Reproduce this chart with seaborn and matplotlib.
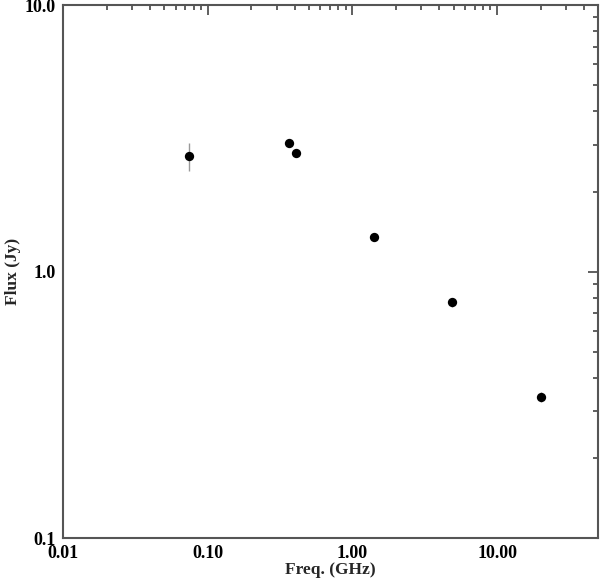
import numpy as np
import pandas as pd
import matplotlib
matplotlib.use("Agg")
import matplotlib.pyplot as plt
import matplotlib.ticker as mticker
import seaborn as sns

freq = [0.074, 0.365, 0.408, 1.4, 4.85, 20.0]
flux = [2.72, 3.05, 2.80, 1.35, 0.77, 0.34]
flux_err = [0.33, 0.08, 0.07, 0.03, 0.03, 0.015]

df = pd.DataFrame({"freq": freq, "flux": flux, "err": flux_err})

sns.set_theme(style="white")
plt.rcParams["font.family"] = ["Liberation Serif", "DejaVu Serif"]
plt.rcParams["font.weight"] = "bold"

fig = plt.figure(figsize=(6, 5.85), dpi=100)
ax = fig.add_axes([0.105, 0.080, 0.892, 0.911])

ax.errorbar(df["freq"], df["flux"], yerr=df["err"], fmt="none",
            ecolor="#999999", elinewidth=1, capsize=0, zorder=1)
sns.scatterplot(data=df, x="freq", y="flux", ax=ax, color="black",
                s=45, edgecolor="black", linewidth=0, zorder=2)

ax.set_xscale("log")
ax.set_yscale("log")
ax.set_xlim(0.01, 50)
ax.set_ylim(0.1, 10)

ax.xaxis.set_major_locator(mticker.FixedLocator([0.01, 0.1, 1, 10]))
ax.xaxis.set_major_formatter(mticker.FixedFormatter(["0.01", "0.10", "1.00", "10.00"]))
ax.xaxis.set_minor_locator(mticker.LogLocator(base=10, subs=np.arange(2, 10)))
ax.xaxis.set_minor_formatter(mticker.NullFormatter())
ax.yaxis.set_major_locator(mticker.FixedLocator([0.1, 1, 10]))
ax.yaxis.set_major_formatter(mticker.FixedFormatter(["0.1", "1.0", "10.0"]))
ax.yaxis.set_minor_locator(mticker.LogLocator(base=10, subs=np.arange(2, 10)))
ax.yaxis.set_minor_formatter(mticker.NullFormatter())

ax.tick_params(which="both", direction="in", top=True, right=True,
               colors="#444444", labelcolor="black", labelsize=13, width=1.2)
ax.tick_params(which="major", length=7, pad=5)
ax.tick_params(which="minor", length=3.5)
for lab in ax.get_xticklabels() + ax.get_yticklabels():
    lab.set_fontweight("bold")

for sp in ax.spines.values():
    sp.set_color("#555555")
    sp.set_linewidth(1.5)

ax.set_xlabel("Freq. (GHz)", fontsize=12.5, fontweight="bold", labelpad=0)
ax.set_ylabel("Flux (Jy)", fontsize=12.5, fontweight="bold", labelpad=3)
ax.grid(False)

fig.savefig("out.png", dpi=100)
